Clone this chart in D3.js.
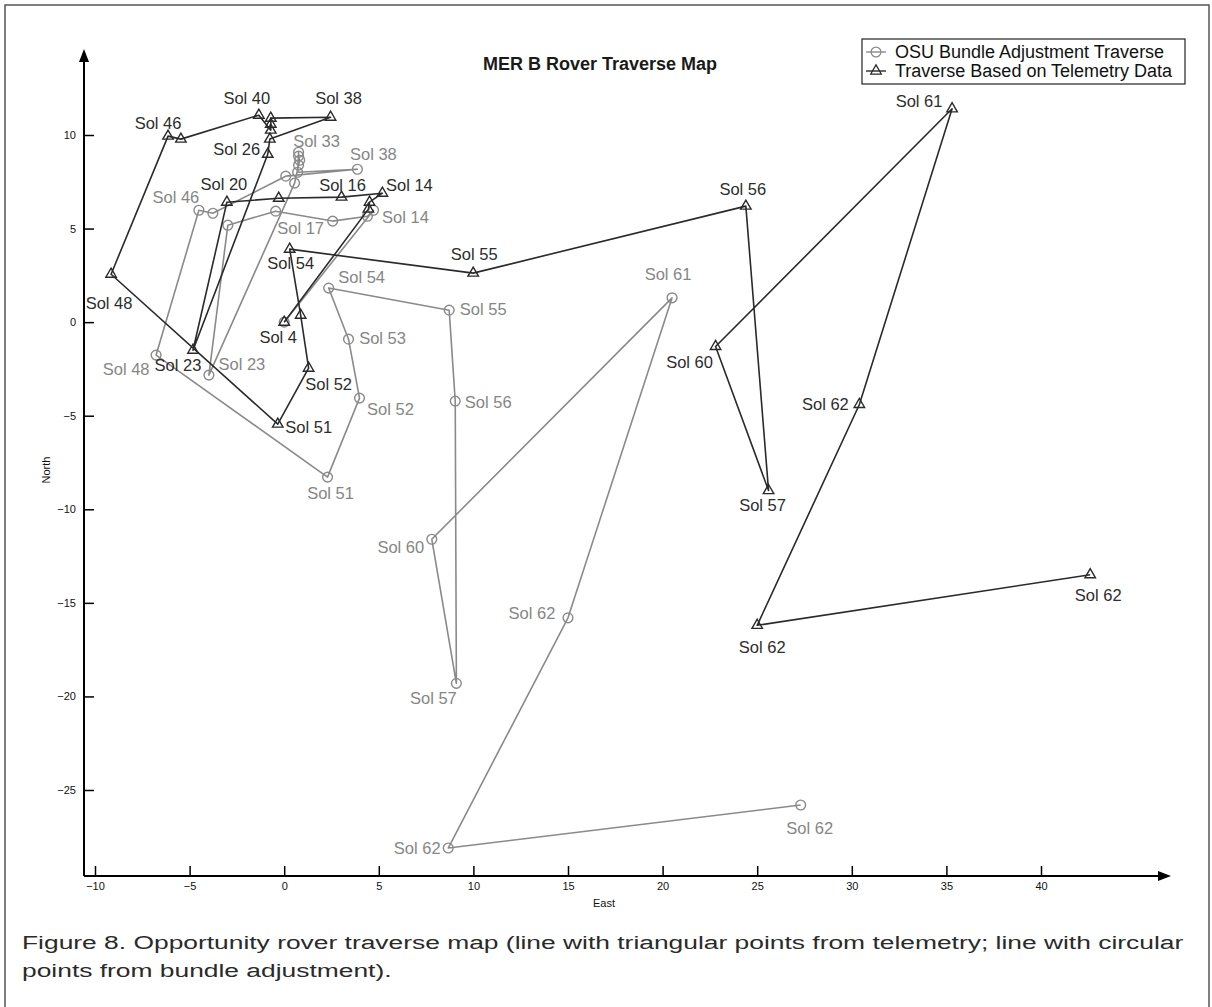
<!DOCTYPE html>
<html>
<head>
<meta charset="utf-8">
<script src="https://cdn.jsdelivr.net/npm/d3@7"></script>
<style>
  body { margin: 0; background: #fff; }
  svg { display: block; font-family: "Liberation Sans", Arial, sans-serif; }
</style>
</head>
<body>
<svg id="chart" width="1212" height="1007"></svg>
<script>
// ---- axis ticks ----
const xTickValues = [-10, -5, 0, 5, 10, 15, 20, 25, 30, 35, 40];
const yTickValues = [-25, -20, -15, -10, -5, 0, 5, 10];
const seriesNames = ["OSU Bundle Adjustment Traverse", "Traverse Based on Telemetry Data"];

// ---- OSU bundle adjustment traverse (metres East / North) ----
const osuEast  = [0, 4.72, 4.40, 2.56, -0.45, -2.98, -3.98, 0.55, 0.76, 0.82, 0.76, 0.76, 0.71, 3.87, 0.08, -3.77, -4.51,
                  -6.77, 2.29, 3.98, 3.40, 2.35, 8.72, 9.04, 9.1, 7.8, 20.5, 15.0, 8.67, 27.3];
const osuNorth = [0, 5.98, 5.66, 5.40, 5.93, 5.18, -2.83, 7.43, 8.39, 8.65, 8.87, 9.08, 8.01, 8.17, 7.80, 5.82, 5.98,
                  -1.76, -8.28, -4.06, -0.91, 1.82, 0.64, -4.22, -19.3, -11.6, 1.3, -15.8, -28.1, -25.8];
const osuLabels = ["", "Sol 14", "", "Sol 17", "", "", "Sol 23", "", "", "", "", "Sol 33", "", "Sol 38", "", "", "Sol 46",
                   "Sol 48", "Sol 51", "Sol 52", "Sol 53", "Sol 54", "Sol 55", "Sol 56", "Sol 57", "Sol 60", "Sol 61",
                   "Sol 62", "Sol 62", "Sol 62"];

// ---- traverse from telemetry ----
const telemetryEast  = [0, 4.45, 4.51, 5.19, 3.03, -0.29, -3.03, -4.82, -0.87, -0.76, 2.45, -0.71, -0.71, -0.71, -1.34,
                        -5.46, -6.14, -9.15, -0.34, 1.29, 0.87, 0.29, 9.99, 24.4, 25.6, 22.8, 35.3, 30.4, 25.0, 42.6];
const telemetryNorth = [0, 6.04, 6.41, 6.89, 6.68, 6.62, 6.41, -1.50, 8.97, 9.78, 10.95, 10.90, 10.58, 10.26, 11.06,
                        9.78, 9.94, 2.56, -5.45, -2.46, 0.37, 3.90, 2.62, 6.2, -9.0, -1.3, 11.4, -4.4, -16.2, -13.5];
const telemetryLabels = ["Sol 4", "", "", "Sol 14", "Sol 16", "", "Sol 20", "Sol 23", "Sol 26", "", "Sol 38", "", "", "",
                         "Sol 40", "", "Sol 46", "Sol 48", "Sol 51", "Sol 52", "", "Sol 54", "Sol 55", "Sol 56", "Sol 57",
                         "Sol 60", "Sol 61", "Sol 62", "Sol 62", "Sol 62"];

// ---- label placement: pixel offset of each label centre from its point ----
const osuLabelOffsets = [[0,0],[32,7],[0,0],[-32,7],[0,0],[0,0],[33,-11],[0,0],[0,0],[0,0],[0,0],[18,-11],[0,0],[16,-15],
                         [0,0],[0,0],[-23,-13],[-30,14],[3,16],[31,11],[34,-1],[33,-11],[34,-1],[33,1],[-23,15],[-31,8],
                         [-4,-24],[-36,-5],[-31,0],[9,23]];
const telemetryLabelOffsets = [[-6,15],[0,0],[0,0],[27,-8],[1,-12],[0,0],[-3,-18],[-15,15],[-31,-5],[0,0],[8,-19],[0,0],
                               [0,0],[0,0],[-12,-17],[0,0],[-10,-13],[-2,29],[31,3],[20,16],[0,0],[1,14],[1,-19],[-3,-17],
                               [-6,15],[-26,16],[-33,-8],[-34,0],[5,22],[8,20]];

const osuColor = "#8a8a8a", telColor = "#2a2a2a";
const osuTextColor = "#868686", telTextColor = "#2d2d2d";

const svg = d3.select("#chart");

// outer frame
svg.append("rect").attr("x", 5).attr("y", 5).attr("width", 1204).attr("height", 1010)
  .attr("fill", "none").attr("stroke", "#555").attr("stroke-width", 1.5);

const x = d3.scaleLinear().domain([-10, 40]).range([95, 1041]);
const y = d3.scaleLinear().domain([-25, 10]).range([790, 135]);
const axisX = 84, axisY = 876;

// axes with arrow heads
const axes = svg.append("g");
axes.append("line").attr("x1", axisX).attr("y1", axisY).attr("x2", axisX).attr("y2", 58)
  .attr("stroke", "#000").attr("stroke-width", 2);
axes.append("path").attr("d", `M${axisX},49 L${axisX - 5},62 L${axisX + 5},62 Z`).attr("fill", "#000");
axes.append("line").attr("x1", axisX).attr("y1", axisY).attr("x2", 1162).attr("y2", axisY)
  .attr("stroke", "#000").attr("stroke-width", 2);
axes.append("path").attr("d", `M1171,${axisY} L1158,${axisY - 5} L1158,${axisY + 5} Z`).attr("fill", "#000");

const gx = svg.append("g").attr("transform", `translate(0,${axisY})`)
  .call(d3.axisBottom(x).tickValues(xTickValues).tickSize(-10).tickPadding(6).tickFormat(d3.format("d")));
const gy = svg.append("g").attr("transform", `translate(${axisX},0)`)
  .call(d3.axisLeft(y).tickValues(yTickValues).tickSize(-10).tickPadding(8).tickFormat(d3.format("d")));
[gx, gy].forEach(g => {
  g.select(".domain").remove();
  g.selectAll(".tick line").attr("stroke", "#000").attr("stroke-width", 1.5);
  g.selectAll(".tick text").attr("font-size", 11).attr("fill", "#111")
    .attr("font-family", "\"Liberation Sans\", Arial, sans-serif");
});

svg.append("text").attr("x", 604).attr("y", 907).attr("text-anchor", "middle")
  .attr("font-size", 11).attr("fill", "#111").text("East");
svg.append("text").attr("transform", "translate(50,470) rotate(-90)").attr("text-anchor", "middle")
  .attr("font-size", 11).attr("fill", "#111").text("North");

// title
svg.append("text").attr("x", 600).attr("y", 70).attr("text-anchor", "middle")
  .attr("font-size", 18).attr("font-weight", "bold").attr("fill", "#1a1a1a").text("MER B Rover Traverse Map");

// series
function drawSeries(east, north, labels, offsets, color, textColor, marker) {
  const pts = east.map((e, i) => [x(e), y(north[i])]);
  const g = svg.append("g");
  g.append("path").attr("d", d3.line()(pts)).attr("fill", "none")
    .attr("stroke", color).attr("stroke-width", 1.6).attr("stroke-linejoin", "round");
  g.selectAll("path.m").data(pts).join("path").attr("class", "m")
    .attr("transform", d => `translate(${d[0]},${d[1]})`)
    .attr("d", marker).attr("fill", "none").attr("stroke", color).attr("stroke-width", 1.4);
  g.selectAll("text").data(pts.map((p, i) => ({p, t: labels[i], o: offsets[i]})).filter(d => d.t))
    .join("text")
    .attr("x", d => d.p[0] + d.o[0]).attr("y", d => d.p[1] + d.o[1]).attr("dy", "0.35em")
    .attr("text-anchor", "middle").attr("font-size", 16.5).attr("fill", textColor).text(d => d.t);
}
const circleMarker = d3.symbol().type(d3.symbolCircle).size(75)();
const triMarker = d3.symbol().type(d3.symbolTriangle).size(48)();
drawSeries(osuEast, osuNorth, osuLabels, osuLabelOffsets, osuColor, osuTextColor, circleMarker);
drawSeries(telemetryEast, telemetryNorth, telemetryLabels, telemetryLabelOffsets, telColor, telTextColor, triMarker);

// legend
const legend = svg.append("g");
legend.append("rect").attr("x", 862).attr("y", 39).attr("width", 323).attr("height", 45)
  .attr("fill", "#fff").attr("stroke", "#222").attr("stroke-width", 1.2);
const rows = [{name: seriesNames[0], color: osuColor, m: circleMarker, yy: 52},
              {name: seriesNames[1], color: telColor, m: triMarker, yy: 71}];
rows.forEach(r => {
  legend.append("line").attr("x1", 866).attr("x2", 886).attr("y1", r.yy).attr("y2", r.yy)
    .attr("stroke", r.color).attr("stroke-width", 1.4);
  legend.append("path").attr("d", r.m).attr("transform", `translate(876,${r.yy})`)
    .attr("fill", "none").attr("stroke", r.color).attr("stroke-width", 1.3);
  legend.append("text").attr("x", 895).attr("y", r.yy).attr("dy", "0.35em")
    .attr("font-size", 18).attr("fill", "#111").text(r.name);
});

// caption
const cap = svg.append("g").attr("fill", "#2a2a2a");
const capLines = ["Figure 8. Opportunity rover traverse map (line with triangular points from telemetry; line with circular",
                  "points from bundle adjustment)."];
const capTexts = capLines.map((t, i) => cap.append("text").attr("x", 0).attr("y", 949 + i * 28)
  .attr("font-size", 18).text(t));
const w0 = capTexts[0].node().getComputedTextLength();
const sx = 1162 / w0;
capTexts.forEach(t => t.attr("transform", `translate(22,0) scale(${sx},1)`));
</script>
</body>
</html>
